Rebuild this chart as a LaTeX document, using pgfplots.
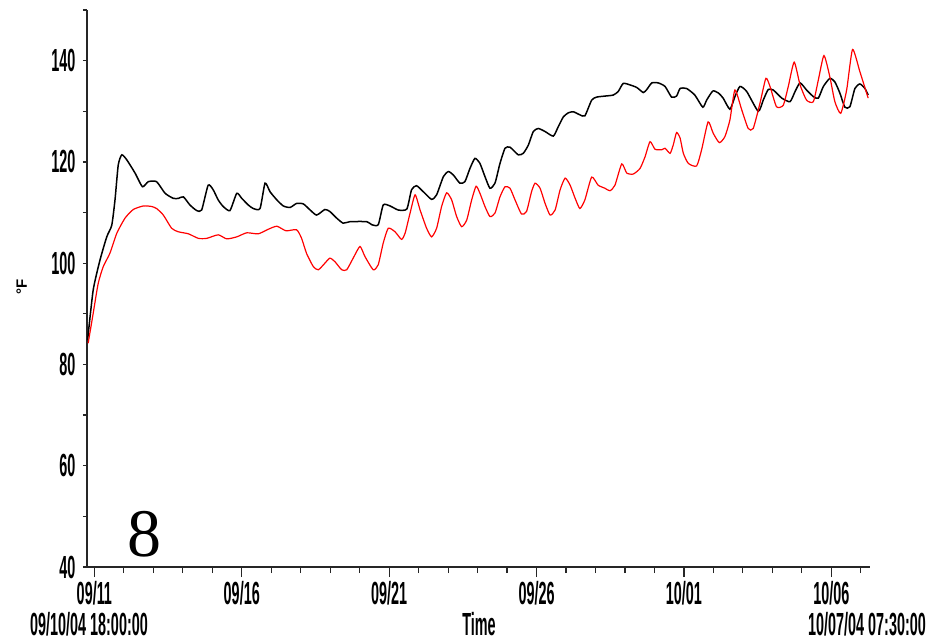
\documentclass[border=0pt]{standalone}
\usepackage{fontspec}
\setmainfont{Liberation Sans}[FakeStretch=0.45]
\newfontfamily\plainsans{Liberation Sans}
\newfontfamily\eightfont{Liberation Serif}
\usepackage{pgfplots}
\pgfplotsset{compat=1.18}
\newcommand\lblfont{\bfseries\fontsize{32}{34}\selectfont}
\begin{document}
\begin{tikzpicture}
\useasboundingbox (-87pt,-74pt) rectangle (846pt,567pt);
\begin{axis}[
  at={(0,0)}, anchor=south west,
  scale only axis, width=783pt, height=557pt,
  xmin=-0.25, xmax=26.3125, ymin=40, ymax=150,
  axis lines=left, axis line style={-, line width=1.4pt, black!85},
  tick align=outside,
  xtick={0,5,10,15,20,25},
  xticklabels={09/11,09/16,09/21,09/26,10/01,10/06},
  minor xtick={1,2,3,4,6,7,8,9,11,12,13,14,16,17,18,19,21,22,23,24,26},
  ytick=\empty,
  extra y ticks={40,50,60,70,80,90,100,110,120,130,140,150},
  extra y tick labels={40,,60,,80,,100,,120,,140,},
  extra y tick style={major tick length=4pt},
  major tick length=10pt, minor tick length=6pt,
  tick style={line width=1.2pt, black!85},
  /pgf/number format/assume math mode=true,
  tick label style={font=\lblfont, inner sep=0pt},
  xticklabel style={yshift=-4.5pt},
  yticklabel style={xshift=-7.5pt},
  clip=false,
]
\addplot[black, line width=1.5pt, smooth, tension=0.35] coordinates {
(-0.23,84.8) (-0.04,94.7) (0.19,100.6) (0.42,105.2) (0.59,107.5) (0.70,112.5)
(0.81,119.4) (0.93,121.4) (1.10,120.4) (1.38,117.8) (1.63,115.1) (1.83,116.1)
(2.11,116.1) (2.40,113.8) (2.68,112.8) (2.85,112.8) (3.02,113.1) (3.24,111.5)
(3.47,110.4) (3.64,110.5) (3.86,115.4) (4.03,114.5) (4.20,112.5) (4.37,111.2)
(4.60,110.4) (4.83,113.8) (5.00,112.8) (5.22,111.5) (5.39,110.8) (5.62,110.8)
(5.79,115.8) (5.96,114.1) (6.19,112.5) (6.41,111.3) (6.64,111.0) (6.86,111.8)
(7.09,111.7) (7.32,110.5) (7.54,109.5) (7.82,110.6) (7.99,110.2) (8.22,108.9)
(8.44,107.9) (8.67,108.2) (9.24,108.2) (9.41,107.6) (9.63,107.6) (9.80,111.5)
(10.03,111.3) (10.31,110.5) (10.60,110.7) (10.76,114.5) (10.93,115.3) (11.16,114.1)
(11.44,112.6) (11.61,113.5) (11.84,117.1) (12.01,118.1) (12.18,117.4) (12.40,115.8)
(12.57,116.1) (12.74,118.7) (12.91,120.7) (13.08,119.7) (13.25,117.1) (13.42,114.8)
(13.59,115.8) (13.76,119.7) (13.93,122.7) (14.10,122.9) (14.38,121.4) (14.55,121.7)
(14.72,123.3) (14.89,126.0) (15.06,126.6) (15.29,126.0) (15.57,125.1) (15.74,127.0)
(15.91,128.9) (16.08,129.7) (16.25,129.9) (16.47,129.3) (16.64,129.1) (16.87,132.2)
(17.04,132.8) (17.32,133.0) (17.60,133.2) (17.77,133.9) (17.94,135.5) (18.17,135.2)
(18.40,134.7) (18.62,133.7) (18.74,134.3) (18.91,135.6) (19.13,135.6) (19.36,134.9)
(19.58,132.8) (19.75,133.0) (19.87,134.5) (20.09,134.5) (20.37,133.2) (20.64,130.8)
(20.77,132.2) (20.98,134.0) (21.17,133.6) (21.33,132.6) (21.56,130.4) (21.73,132.9)
(21.90,134.9) (22.13,133.9) (22.52,130.0) (22.69,132.2) (22.86,134.3) (23.03,134.2)
(23.32,132.6) (23.60,131.9) (23.77,133.9) (23.94,135.6) (24.16,134.2) (24.39,132.9)
(24.56,132.6) (24.73,134.9) (24.95,136.5) (25.12,135.8) (25.29,133.6) (25.46,130.8)
(25.63,130.9) (25.80,134.5) (25.97,135.4) (26.14,134.5) (26.25,133.2)
};
\addplot[red, line width=1.2pt, smooth, tension=0.35] coordinates {
(-0.21,84.2) (-0.04,90.1) (0.13,96.0) (0.30,99.3) (0.53,102.0) (0.76,105.9)
(1.04,108.9) (1.32,110.6) (1.66,111.3) (1.94,111.2) (2.11,110.8) (2.34,109.5)
(2.62,106.9) (2.85,106.2) (3.19,105.8) (3.53,104.9) (3.81,104.9) (4.20,105.6)
(4.49,104.8) (4.83,105.2) (5.17,106.0) (5.56,105.8) (5.90,106.7) (6.19,107.3)
(6.50,106.4) (6.86,106.6) (7.03,104.9) (7.20,101.9) (7.43,99.3) (7.60,98.7)
(7.82,100.0) (7.99,101.0) (8.16,100.3) (8.39,98.7) (8.56,98.7) (8.78,101.0)
(9.01,103.3) (9.18,101.3) (9.46,98.7) (9.63,99.7) (9.80,104.0) (9.97,106.9)
(10.20,106.2) (10.42,104.7) (10.54,105.9) (10.71,109.9) (10.88,113.5) (11.05,110.5)
(11.27,106.9) (11.44,105.2) (11.61,106.9) (11.78,111.2) (11.95,113.9) (12.12,112.5)
(12.29,109.2) (12.46,107.2) (12.63,108.5) (12.80,112.5) (12.95,115.2) (13.08,113.8)
(13.25,111.2) (13.42,109.2) (13.59,109.9) (13.76,113.1) (13.93,115.1) (14.10,114.8)
(14.27,112.5) (14.49,109.7) (14.66,110.2) (14.83,114.1) (14.95,115.8) (15.12,114.8)
(15.29,111.8) (15.46,109.5) (15.63,110.5) (15.80,114.5) (15.97,116.8) (16.14,115.4)
(16.31,112.8) (16.47,110.8) (16.64,112.5) (16.87,117.0) (17.09,115.4) (17.32,114.8)
(17.49,114.3) (17.66,115.4) (17.89,119.6) (18.06,117.8) (18.28,117.6) (18.51,118.7)
(18.68,121.0) (18.85,124.0) (19.02,122.5) (19.25,122.4) (19.36,122.7) (19.53,121.7)
(19.64,123.4) (19.75,125.8) (19.87,124.7) (19.98,121.7) (20.15,119.7) (20.43,119.2)
(20.60,122.4) (20.82,127.9) (20.99,125.7) (21.20,123.8) (21.39,125.0) (21.56,128.3)
(21.73,134.2) (21.96,130.3) (22.18,126.6) (22.35,126.6) (22.58,131.6) (22.78,136.5)
(22.92,134.9) (23.14,130.9) (23.37,131.2) (23.54,134.9) (23.74,139.7) (23.94,135.2)
(24.16,132.2) (24.39,131.9) (24.56,136.2) (24.75,141.0) (24.95,136.8) (25.12,131.9)
(25.32,129.6) (25.52,134.2) (25.72,142.2) (25.97,137.8) (26.25,132.6)
};
\node[font=\eightfont\fontsize{68}{70}\selectfont, anchor=base] at (rel axis cs:0.074,0.018) {8};
\end{axis}
\node[anchor=base, inner sep=0pt, font=\lblfont] at (2pt,-68pt) {09/10/04 18:00:00};
\node[anchor=base, inner sep=0pt, font=\lblfont] at (780pt,-68pt) {10/07/04 07:30:00};
\node[anchor=base, inner sep=0pt, font=\lblfont] at (392pt,-68pt) {Time};
\node[rotate=90, anchor=base, font=\plainsans\bfseries\fontsize{15}{17}\selectfont] at (-60pt,280pt) {°F};
\end{tikzpicture}
\end{document}
